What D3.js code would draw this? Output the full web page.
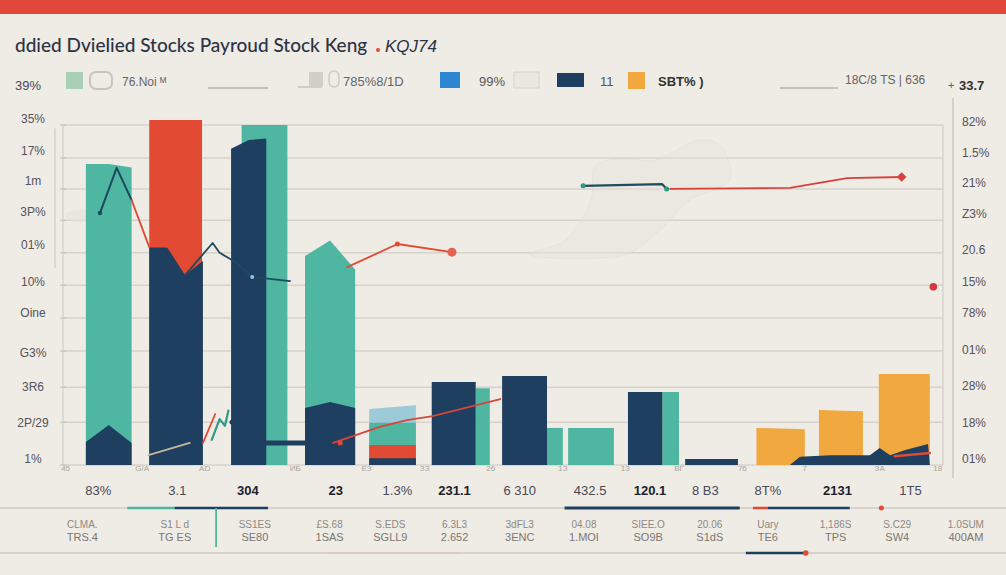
<!DOCTYPE html>
<html><head><meta charset="utf-8">
<script src="https://cdn.jsdelivr.net/npm/d3@7"></script>
<style>
html,body{margin:0;padding:0;background:#efebe5;}
svg{display:block;font-family:"Liberation Sans","DejaVu Sans",sans-serif;}
</style></head>
<body><svg id="chart" width="1006" height="575"></svg>
<script>
// ---------- DATA ----------
const titleText = "ddied Dvielied Stocks Payroud Stock Keng";
const titleTag = "KQJ74";

// legend entries
const legendItems = [
  {key:"mint", label:"76.Noi  ᴹ"},
  {key:"grey", label:"785%8/1D"},
  {key:"blue", label:"99%"},
  {key:"navy", label:"11"},
  {key:"orange", label:"SBT%  )"}
];
const legendRightLabel = "18C/8 TS | 636";
const legendLeftLabel = "39%";
const rightTopLabel = "33.7";

// horizontal grid values (y units)
const gridValues = [0, 12.6, 22.9, 33.5, 43.2, 52.9, 62.4, 72, 81.2, 90.3, 100];
// left axis
const leftTickValues = [1.8, 12.4, 22.9, 32.9, 44.7, 53.8, 64.7, 74.4, 83.5, 92.4, 102];
const leftTickLabels = ["1%", "2P/29", "3R6", "G3%", "Oine", "10%", "01%", "3P%", "1m", "17%", "35%"];
// right axis
const rightTickValues = [1.8, 12.4, 23.2, 33.8, 44.7, 53.8, 63.2, 73.8, 82.9, 91.8, 100.9];
const rightTickLabels = ["01%", "18%", "28%", "01%", "78%", "15%", "20.6", "Z3%", "21%", "1.5%", "82%"];

// bars: series, period start, period end, top values (evenly spread across the bar)
const tealBars = [
  {s:"teal", x0:2.6, x1:7.8, top:[88.5, 88.5, 87.5]},
  {s:"teal", x0:20.3, x1:25.5, top:[100, 100]},
  {s:"teal", x0:27.5, x1:33.2, top:[61.5, 66, 57.5]},
  {s:"teal", x0:46.9, x1:48.5, top:[22.6, 22.6]},
  {s:"teal", x0:55, x1:56.8, top:[10.9, 10.9]},
  {s:"teal", x0:57.4, x1:62.6, top:[10.9, 10.9]},
  {s:"teal", x0:68.1, x1:70, top:[21.5, 21.5]}
];
const redBars = [
  {s:"red", x0:9.8, x1:15.8, top:[101.5, 101.5]}
];
const stackBar = [
  {s:"lightblue", x0:34.8, x1:40.1, top:[16.5, 17.6]},
  {s:"teal", x0:34.8, x1:40.1, top:[12.4, 12.4]},
  {s:"red", x0:34.8, x1:40.1, top:[5.9, 5.9]},
  {s:"navy", x0:34.8, x1:40.1, top:[2, 2]}
];
const navyBars = [
  {s:"navy", x0:2.6, x1:7.8, top:[6.8, 11.8, 6.5]},
  {s:"navy", x0:9.8, x1:15.9, top:[64, 64, 55.9, 60]},
  {s:"navy", x0:19.1, x1:23.1, top:[93, 95.6, 96]},
  {s:"navy", x0:27.5, x1:33.2, top:[16.8, 18.5, 16.8]},
  {s:"navy", x0:41.9, x1:46.9, top:[24.4, 24.4]},
  {s:"navy", x0:49.9, x1:55, top:[26.2, 26.2]},
  {s:"navy", x0:64.2, x1:68.1, top:[21.5, 21.5]},
  {s:"navy", x0:70.7, x1:76.7, top:[1.8, 1.8]}
];
const orangeBars = [
  {s:"orange", x0:78.8, x1:84.3, top:[10.9, 10.5]},
  {s:"orange", x0:85.9, x1:90.9, top:[16.2, 15.8]},
  {s:"orange", x0:92.7, x1:98.5, top:[26.8, 26.8]}
];
// navy ground band under the orange bars
const navyGround = [
  {x:82.6,y:0},{x:83.75,y:2.4},{x:87.2,y:2.9},{x:91.7,y:2.9},{x:92.8,y:5},
  {x:94,y:2.9},{x:95.7,y:4.4},{x:98.3,y:6.2},{x:98.5,y:0}
];

// lines (period, value)
const navyLineA = [{x:4.2,y:74.1},{x:6.1,y:87.4},{x:7.8,y:77.9}];
const redLineA = [{x:7.8,y:77.9},{x:9.8,y:64.1}];
const navyLineB = [{x:13.9,y:55.9},{x:17.0,y:65.3},{x:17.8,y:62.4},{x:19.8,y:59.4},{x:21.5,y:55.3},{x:25.8,y:54.1}];
const redLineB = [{x:32.3,y:58.2},{x:38.0,y:65},{x:44.2,y:62.6}];
const tealLineC = [{x:59.1,y:82.1},{x:68.1,y:82.6},{x:68.6,y:81.2}];
const redLineC = [{x:69,y:81.2},{x:82.6,y:81.5},{x:89.1,y:84.4},{x:95.3,y:84.7}];
const redDot = [{x:98.9,y:52.4}];
const tanLine = [{x:9.7,y:2.9},{x:14.4,y:6.5}];
const redLineD = [{x:15.9,y:6.5},{x:17.3,y:15}];
const tealZig = [{x:16.9,y:7.4},{x:17.8,y:13.5},{x:18.4,y:11.5},{x:18.8,y:16}];
const navyLineD = [{x:19.2,y:12.6},{x:20.7,y:12.4},{x:22.6,y:6.5},{x:26.9,y:6.5},{x:31.5,y:6.5}];
const redLineE = [{x:30.7,y:6.5},{x:36,y:11.2},{x:39.1,y:13.2},{x:42,y:14.4},{x:49.7,y:19.4}];
const redLineF = [{x:94.5,y:2.6},{x:98.5,y:3.5}];
// faint sketch area behind the upper lines
const faintArea = [
  {x:53,y:62},{x:57,y:66},{x:60,y:78},{x:60.5,y:88},{x:63.3,y:90},{x:67,y:89.5},
  {x:68.5,y:91},{x:72.4,y:95.6},{x:74.7,y:94},{x:75.8,y:84},{x:71.3,y:78},{x:67.8,y:69},{x:64,y:62}
];
const faintLeft = [{x:0.2,y:73.5},{x:1.5,y:75},{x:2.8,y:74.8},{x:2.8,y:72},{x:1.2,y:71.5}];

// small tick labels under the plot
const minorTickPos = [0.3, 9, 16.1, 26.4, 34.5, 41.1, 48.6, 56.8, 63.9, 70.0, 77.2, 84.3, 92.8, 99.4];
const minorTickLabels = ["45", "G/A", "AD", "ИБ", "ЕЗ", "ЗЗ", "26", "1З", "1З", "ВГ", "76", "7", "ЗА", "18"];

// main category labels
const catPos = [4, 13, 21, 31, 38, 44.5, 51.9, 59.9, 66.7, 73, 80.1, 88, 96.3];
const categories = ["83%", "3.1", "304", "23", "1.3%", "231.1", "6 310", "432.5", "120.1", "8 B3", "8T%", "2131", "1T5"];
const catBold = [false, false, true, true, false, true, false, false, true, false, false, true, false];

// detail rows
const detailPos = [2.2, 12.7, 21.8, 30.3, 37.2, 44.5, 51.9, 59.2, 66.5, 73.5, 80.1, 87.8, 94.8, 102.6];
const detailTop = ["CLMA.", "S1 L d", "SS1ES", "£S.68", "S.EDS", "6.3L3", "3dFL3", "04.08", "SIEE.O", "20.06", "Uary", "1,186S", "S.C29", "1.0SUM"];
const detailBottom = ["TRS.4", "TG ES", "SE80", "1SAS", "SGLL9", "2.652", "3ENC", "1.MOI", "SO9B", "S1dS", "TE6", "TPS", "SW4", "400AM"];

// coloured segments on the bottom rules
const rule1Segments = [
  {s:"teal", x0:7.3, x1:12.7, w:2.5},
  {s:"navy", x0:12.7, x1:23.3, w:2.5},
  {s:"navy", x0:57, x1:76.9, w:3},
  {s:"red", x0:78.4, x1:80.1, w:2.5},
  {s:"navy", x0:80.1, x1:89.4, w:2.5}
];
const rule1Dot = 93;
const rule1Vertical = 17.4;
const rule2Segments = [{s:"navy", x0:77.6, x1:84.4, w:2.5}];
const rule2Dot = 84.4;

// ---------- STYLE ----------
const colors = {
  teal:"#4fb6a1", navy:"#1f3f61", red:"#e24a33", orange:"#f1a83e",
  lightblue:"#9ccad6", mint:"#a8d0b6", grey:"#cfcac2", blue:"#2d86cf", tan:"#c9b79a"
};

// ---------- DRAW ----------
const svg = d3.select("#chart");
const W = 1006, H = 575;
const plot = {left:63, right:943, top:125, bottom:465};
const x = d3.scaleLinear().domain([0,100]).range([plot.left, plot.right]);
const y = d3.scaleLinear().domain([0,100]).range([plot.bottom, plot.top]);

svg.append("rect").attr("width",W).attr("height",H).attr("fill","#efebe5");
svg.append("rect").attr("x",0).attr("y",0).attr("width",W).attr("height",14).attr("fill","#e2483a");

// title
svg.append("text").attr("x",15).attr("y",52)
  .attr("font-family","Lato, 'Open Sans', sans-serif").attr("font-size",19).attr("font-weight",500)
  .attr("fill","#2c3444").text(titleText);
svg.append("circle").attr("cx",378).attr("cy",50).attr("r",2).attr("fill",colors.red);
svg.append("text").attr("x",385).attr("y",52).attr("font-size",17).attr("fill","#2c3444")
  .attr("font-style","italic").text(titleTag);

// legend
const lg = svg.append("g").attr("font-size",12).attr("fill","#4a4a55");
lg.append("text").attr("x",15).attr("y",90).attr("fill","#4a4a55").attr("font-size",13).text(legendLeftLabel);
lg.append("rect").attr("x",66).attr("y",72).attr("width",17).attr("height",17).attr("fill",colors.mint);
lg.append("rect").attr("x",90).attr("y",72).attr("width",22).attr("height",17).attr("rx",6)
  .attr("fill","none").attr("stroke","#c9c4bd").attr("stroke-width",2);
lg.append("text").attr("x",122).attr("y",86).attr("fill","#666").text(legendItems[0].label);
lg.append("line").attr("x1",208).attr("x2",268).attr("y1",88).attr("y2",88).attr("stroke","#9a978f").attr("stroke-width",1);
lg.append("line").attr("x1",298).attr("x2",322).attr("y1",87).attr("y2",87).attr("stroke","#c9c4bd").attr("stroke-width",1.5);
lg.append("rect").attr("x",309).attr("y",72).attr("width",14).attr("height",15).attr("fill","#d4cfc6");
lg.append("rect").attr("x",329).attr("y",71).attr("width",10).attr("height",16).attr("rx",5)
  .attr("fill","none").attr("stroke","#d0cbc4").attr("stroke-width",1.5);
lg.append("text").attr("x",343).attr("y",86).attr("fill","#666").attr("font-size",13).text(legendItems[1].label);
lg.append("rect").attr("x",440).attr("y",72).attr("width",20).attr("height",16).attr("fill",colors.blue);
lg.append("text").attr("x",479).attr("y",86).attr("fill","#555").attr("font-size",13).text(legendItems[2].label);
lg.append("rect").attr("x",514).attr("y",72).attr("width",25).attr("height",16).attr("fill","#ebe7e1")
  .attr("stroke","#d8d3cc");
lg.append("rect").attr("x",557).attr("y",73).attr("width",27).attr("height",14).attr("fill",colors.navy);
lg.append("text").attr("x",600).attr("y",86).attr("fill","#555").attr("font-size",13).text(legendItems[3].label);
lg.append("rect").attr("x",628).attr("y",72).attr("width",17).attr("height",17).attr("fill",colors.orange);
lg.append("text").attr("x",658).attr("y",86).attr("fill","#333").attr("font-size",13).attr("font-weight",600).text(legendItems[4].label);
lg.append("line").attr("x1",780).attr("x2",838).attr("y1",88).attr("y2",88).attr("stroke","#9a978f").attr("stroke-width",1);
lg.append("text").attr("x",845).attr("y",84).attr("fill","#666").attr("font-size",12).text(legendRightLabel);
lg.append("text").attr("x",948).attr("y",89).attr("fill","#5a6070").attr("font-size",11).text("+");
lg.append("text").attr("x",959).attr("y",90).attr("fill","#333").attr("font-size",13).attr("font-weight",600).text(rightTopLabel);

// plot frame & grid
const grid = svg.append("g");
grid.selectAll("line.g").data(gridValues).join("line")
  .attr("x1",plot.left).attr("x2",plot.right)
  .attr("y1",d=>y(d)).attr("y2",d=>y(d))
  .attr("stroke","#d7d2cb").attr("stroke-width",1.5);
grid.append("line").attr("x1",plot.left).attr("x2",plot.left).attr("y1",plot.top).attr("y2",plot.bottom)
  .attr("stroke","#d2cdc6").attr("stroke-width",1.2);
grid.append("line").attr("x1",plot.right).attr("x2",plot.right).attr("y1",plot.top).attr("y2",plot.bottom)
  .attr("stroke","#d2cdc6").attr("stroke-width",1.2);
grid.selectAll("line.t").data(gridValues).join("line")
  .attr("x1",plot.left-3).attr("x2",plot.left+3).attr("y1",d=>y(d)).attr("y2",d=>y(d))
  .attr("stroke","#c3beb7");

// left axis
const leftAxis = d3.axisLeft(y).tickValues(leftTickValues)
  .tickFormat((d,i)=>leftTickLabels[i]).tickSize(0).tickPadding(0);
const la = svg.append("g").attr("transform","translate(33,0)").call(leftAxis);
la.select(".domain").remove();
la.selectAll("text").attr("text-anchor","middle").attr("font-size",12)
  .attr("fill","#55535c").attr("font-family","'Liberation Sans',sans-serif");
svg.append("line").attr("x1",55).attr("x2",55).attr("y1",y(99)).attr("y2",y(58))
  .attr("stroke","#c9c4bd").attr("stroke-width",1);

// right axis
const rightAxis = d3.axisRight(y).tickValues(rightTickValues)
  .tickFormat((d,i)=>rightTickLabels[i]).tickSize(0).tickPadding(9);
const ra = svg.append("g").attr("transform",`translate(953,0)`).call(rightAxis);
ra.select(".domain").remove();
ra.selectAll("text").attr("font-size",12).attr("fill","#55535c");
svg.append("line").attr("x1",953).attr("x2",953).attr("y1",98).attr("y2",478)
  .attr("stroke","#cdc8c1").attr("stroke-width",1.5);

// faint sketches
svg.append("path").datum(faintArea)
  .attr("d", d3.line().x(d=>x(d.x)).y(d=>y(d.y)).curve(d3.curveCatmullRomClosed))
  .attr("fill","#e7e3dd").attr("stroke","#d9d5cf").attr("stroke-width",0.8).attr("opacity",0.45);
svg.append("path").datum(faintLeft)
  .attr("d", d3.line().x(d=>x(d.x)).y(d=>y(d.y)).curve(d3.curveCatmullRomClosed))
  .attr("fill","#e5e1db").attr("opacity",0.6);

// bar path generator
function barPath(b){
  const n = b.top.length;
  const pts = b.top.map((v,i)=>[x(b.x0 + (b.x1-b.x0)*(n===1?0:i/(n-1))), y(v)]);
  if(n===1) pts.push([x(b.x1), y(b.top[0])]);
  return "M" + x(b.x0) + "," + y(0) + "L" + pts.map(p=>p.join(",")).join("L") + "L" + x(b.x1) + "," + y(0) + "Z";
}
const barsG = svg.append("g");
function drawBars(arr){
  barsG.append("g").selectAll("path").data(arr).join("path")
    .attr("d", barPath).attr("fill", d=>colors[d.s]);
}
drawBars(tealBars);
drawBars(redBars);
drawBars(stackBar);
drawBars(navyBars);
drawBars(orangeBars);

// ground band
svg.append("path").datum(navyGround).attr("d", d3.line().x(d=>x(d.x)).y(d=>y(d.y)))
  .attr("fill",colors.navy);

// lines
function drawLine(data, color, width){
  svg.append("path").datum(data).attr("d", d3.line().x(d=>x(d.x)).y(d=>y(d.y)))
    .attr("fill","none").attr("stroke",color).attr("stroke-width",width)
    .attr("stroke-linejoin","round").attr("stroke-linecap","round");
}
drawLine(navyLineA, "#1c4a5e", 2);
drawLine(redLineA, colors.red, 1.8);
drawLine(navyLineB, "#1e4a60", 1.8);
drawLine(redLineB, colors.red, 1.8);
drawLine(tealLineC, "#1f4c5e", 2.2);
drawLine(redLineC, "#d9403c", 1.8);
drawLine(tanLine, colors.tan, 1.8);
drawLine(redLineD, colors.red, 1.8);
drawLine(tealZig, "#2e9c84", 2.2);
drawLine(navyLineD, colors.navy, 5);
drawLine(redLineE, "#d6463a", 1.8);
drawLine(redLineF, colors.red, 2.5);

// markers
svg.append("circle").attr("cx",x(navyLineA[0].x)).attr("cy",y(navyLineA[0].y)).attr("r",2.2).attr("fill","#1c4a5e");
svg.append("circle").attr("cx",x(redLineB[1].x)).attr("cy",y(redLineB[1].y)).attr("r",2.5).attr("fill",colors.red);
svg.append("circle").attr("cx",x(redLineB[2].x)).attr("cy",y(redLineB[2].y)).attr("r",4.5).attr("fill","#e6604f");
svg.append("circle").attr("cx",x(tealLineC[0].x)).attr("cy",y(tealLineC[0].y)).attr("r",2.5).attr("fill","#2a9c86");
svg.append("circle").attr("cx",x(tealLineC[2].x)).attr("cy",y(tealLineC[2].y)).attr("r",2.5).attr("fill","#2a9c86");
svg.append("path").attr("transform",`translate(${x(redLineC[3].x)},${y(redLineC[3].y)})`)
  .attr("d", d3.symbol(d3.symbolDiamond2, 60)).attr("fill","#d9403c");
svg.selectAll("circle.rd").data(redDot).join("circle")
  .attr("cx",d=>x(d.x)).attr("cy",d=>y(d.y)).attr("r",3.8).attr("fill","#d13b3b");
svg.append("circle").attr("cx",x(navyLineB[4].x)).attr("cy",y(navyLineB[4].y)).attr("r",2).attr("fill","#8fc5d0");
svg.append("circle").attr("cx",x(navyLineD[4].x)).attr("cy",y(navyLineD[4].y)).attr("r",2.5).attr("fill",colors.red);

// minor tick labels under plot
svg.append("g").selectAll("text").data(minorTickLabels).join("text")
  .attr("x",(d,i)=>x(minorTickPos[i])).attr("y",471).attr("text-anchor","middle")
  .attr("font-size",8).attr("fill","#a8a39c").text(d=>d);

// category labels
svg.append("g").selectAll("text").data(categories).join("text")
  .attr("x",(d,i)=>x(catPos[i])).attr("y",495).attr("text-anchor","middle")
  .attr("font-size",13).attr("font-weight",(d,i)=>catBold[i]?700:400)
  .attr("fill",(d,i)=>catBold[i]?"#1e1e2a":"#4a4a55").text(d=>d);

// rule 1
svg.append("line").attr("x1",0).attr("x2",W).attr("y1",508).attr("y2",508).attr("stroke","#bdb8b1").attr("stroke-width",1.2);
svg.append("g").selectAll("line").data(rule1Segments).join("line")
  .attr("x1",d=>x(d.x0)).attr("x2",d=>x(d.x1)).attr("y1",508).attr("y2",508)
  .attr("stroke",d=>colors[d.s]).attr("stroke-width",d=>d.w);
svg.append("circle").attr("cx",x(rule1Dot)).attr("cy",508).attr("r",2.5).attr("fill",colors.red);
svg.append("line").attr("x1",x(rule1Vertical)).attr("x2",x(rule1Vertical)).attr("y1",508).attr("y2",547)
  .attr("stroke",colors.teal).attr("stroke-width",1.8);

// detail rows
const dg = svg.append("g").attr("font-size",10).attr("fill","#8d8982").attr("text-anchor","middle");
dg.selectAll("text.a").data(detailTop).join("text").attr("class","a")
  .attr("x",(d,i)=>x(detailPos[i])).attr("y",528).text(d=>d);
dg.selectAll("text.b").data(detailBottom).join("text").attr("class","b")
  .attr("x",(d,i)=>x(detailPos[i])).attr("y",541).attr("font-size",11).attr("fill","#7c7872").text(d=>d);

// rule 2
svg.append("line").attr("x1",0).attr("x2",W).attr("y1",553).attr("y2",553).attr("stroke","#bdb8b1").attr("stroke-width",1.2);
svg.append("line").attr("x1",x(30)).attr("x2",x(45)).attr("y1",553).attr("y2",553).attr("stroke","#e2c4b8").attr("stroke-width",1.2);
svg.append("g").selectAll("line").data(rule2Segments).join("line")
  .attr("x1",d=>x(d.x0)).attr("x2",d=>x(d.x1)).attr("y1",553).attr("y2",553)
  .attr("stroke",d=>colors[d.s]).attr("stroke-width",d=>d.w);
svg.append("circle").attr("cx",x(rule2Dot)).attr("cy",553).attr("r",2.8).attr("fill",colors.red);
</script>
</body></html>
